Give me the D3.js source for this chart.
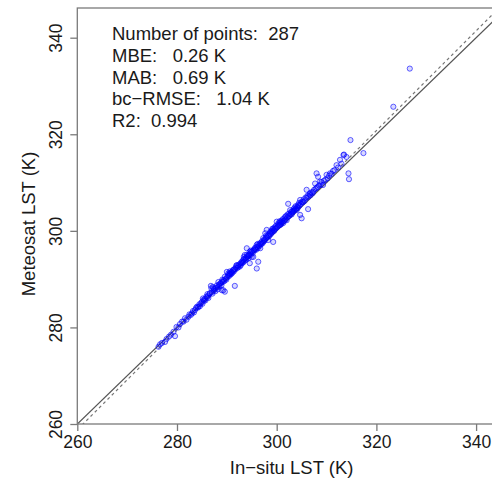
<!DOCTYPE html>
<html>
<head>
<meta charset="utf-8">
<script src="https://cdn.jsdelivr.net/npm/d3@7"></script>
<style>
  body { margin: 0; background: #fff; }
  svg { display: block; font-family: "Liberation Sans", Arial, sans-serif; }
</style>
</head>
<body>
<svg id="chart" width="492" height="482"></svg>
<script>
// in-situ vs Meteosat LST (K)
const insituLST = [
  276.3, 276.6, 277.0, 277.6, 277.9, 278.4, 278.8, 279.3, 279.6, 279.9,
  280.3, 280.6, 281.0, 281.3, 281.6, 281.9, 282.3, 282.5, 282.8, 283.0,
  283.2, 283.4, 283.6, 283.8, 284.0,
  284.2, 284.3, 284.5, 284.6, 284.8, 285.0, 285.1, 285.3, 285.4, 285.6,
  285.7, 285.9, 286.0, 286.2, 286.3, 286.5, 286.6, 286.8, 286.9, 287.0,
  287.1, 287.3, 287.4, 287.5, 287.7, 287.8, 288.0, 288.1, 288.2, 288.4,
  288.5, 288.6, 288.8, 288.9, 289.0, 289.0, 289.2, 289.3, 289.4, 289.5,
  289.6, 289.6, 289.8, 289.9, 290.0, 290.1, 290.2, 290.3, 290.4, 290.5,
  290.6, 290.7, 290.8, 290.9, 291.0, 291.1, 291.2, 291.3, 291.4, 291.5,
  291.6, 291.7, 291.8, 292.0, 292.1, 292.2, 292.3, 292.4, 292.6, 292.7,
  292.8, 292.9,
  293.0, 293.1, 293.2, 293.3, 293.4, 293.5, 293.6, 293.7, 293.8, 293.9,
  294.0, 294.0, 294.1, 294.2, 294.3, 294.4, 294.5, 294.6, 294.6, 294.7,
  294.8, 294.9, 295.0, 295.1, 295.2, 295.3, 295.4, 295.5, 295.6, 296.0,
  295.7, 295.8, 295.9, 296.0, 296.1, 296.2, 296.3, 296.4, 296.5, 296.6,
  296.7, 296.8, 296.9, 297.0, 297.1, 297.2, 297.3, 297.4, 297.5, 297.6,
  297.7, 297.8, 297.9, 298.0, 298.1, 298.2, 298.3, 298.4, 298.5, 298.6,
  298.7, 298.8, 298.9, 299.0, 299.1, 299.2, 299.3, 299.3, 299.4, 299.5,
  299.6, 299.7, 299.8, 299.9, 300.0,
  300.1, 300.2, 300.3, 300.4, 300.5, 300.6, 300.7, 300.8, 300.9, 301.0,
  301.1, 301.2, 301.3, 301.4, 301.5, 301.6, 301.7, 301.8, 301.9, 302.0,
  302.1, 302.2, 302.3, 302.4, 302.5, 302.6, 302.7, 302.8, 302.9, 303.0,
  303.1, 303.2, 303.3, 303.4, 303.5, 303.6, 303.7, 303.8, 303.9, 304.0,
  304.1, 304.2, 304.3, 304.4, 304.5, 304.6, 304.7, 304.7, 304.8, 305.0,
  305.0, 305.2, 305.3, 305.4, 305.6, 305.8,
  306.0, 306.0, 306.2, 306.3, 306.4, 306.6, 306.7, 306.8, 307.0, 307.2,
  307.3, 307.5, 307.7, 307.8, 308.0, 308.0, 308.2, 308.3, 308.5, 308.7,
  308.8, 309.0, 309.3, 309.5, 309.8, 310.0, 310.2, 310.5, 310.7, 311.0,
  311.3, 311.6, 312.0, 312.3, 312.7, 313.0, 313.4, 313.5, 314.0, 314.4,
  314.5, 314.8, 317.4, 323.4, 326.7,
  // extra points in the dense band
  285.2, 286.1, 287.2, 288.3, 289.1, 290.6, 291.9, 293.4, 294.8, 296.2,
  297.9, 299.1, 300.7
];
const meteosatLST = [
  276.0, 276.5, 276.8, 277.0, 277.6, 278.1, 278.5, 279.1, 278.2, 280.1,
  280.0, 280.7, 281.2, 281.2, 281.9, 281.6, 282.2, 282.7, 282.6, 282.9,
  283.4, 283.1, 283.6, 284.0, 284.3,
  284.1, 284.3, 284.8, 284.4, 285.0, 285.3, 284.9, 285.7, 285.5, 285.9,
  285.6, 286.4, 286.2, 286.5, 286.1, 286.9, 287.1, 288.6, 288.1, 287.3,
  287.0, 288.1, 287.6, 287.9, 287.5, 288.2, 288.7, 288.3, 287.9, 288.8,
  288.5, 289.0, 289.2, 288.7, 289.5, 287.7, 289.4, 287.7, 289.8, 289.6,
  290.5, 287.4, 290.1, 289.9, 291.5, 290.4, 290.8, 291.2, 290.6, 291.0,
  291.2, 290.9, 291.4, 291.1, 291.5, 291.3, 291.8, 291.9, 291.6, 292.1,
  288.6, 292.0, 292.4, 292.9, 292.3, 292.7, 292.5, 293.0, 292.6, 293.2,
  292.9, 293.5,
  293.3, 293.7, 293.4, 294.0, 293.6, 294.2, 295.0, 293.9, 294.4, 294.1,
  295.0, 296.4, 294.6, 294.8, 294.3, 295.1, 294.9, 295.7, 293.3, 295.3,
  295.0, 295.6, 294.6, 295.8, 295.4, 294.6, 296.1, 295.9, 296.4, 292.2,
  296.2, 296.6, 296.1, 297.1, 296.7, 296.4, 293.6, 297.0, 296.8, 297.4,
  296.4, 297.2, 297.6, 297.3, 297.9, 297.5, 298.5, 297.8, 298.2, 298.0,
  299.5, 298.4, 298.7, 300.2, 298.6, 299.0, 298.1, 299.2, 298.9, 299.5,
  299.8, 299.3, 299.9, 299.6, 300.1, 299.8, 300.5, 297.7, 300.2, 300.0,
  300.7, 300.4, 301.0, 300.6, 301.9,
  300.8, 301.3, 301.0, 301.6, 301.2, 302.0, 301.2, 301.7, 301.4, 302.1,
  301.8, 302.4, 301.6, 302.0, 302.6, 302.2, 302.9, 302.4, 303.1, 302.2,
  302.8, 303.4, 305.6, 303.0, 303.6, 303.2, 304.3, 303.5, 303.9, 303.4,
  304.1, 303.8, 304.0, 304.5, 304.2, 304.8, 304.4, 305.1, 304.6, 304.3,
  305.0, 304.7, 305.4, 305.1, 305.8, 305.3, 306.4, 303.3, 305.6, 302.6,
  306.0, 305.9, 306.0, 306.5, 306.2, 306.9,
  308.5, 306.8, 307.3, 304.5, 307.1, 307.6, 307.8, 307.4, 308.0, 307.8,
  308.1, 308.5, 309.8, 308.7, 311.9, 308.9, 309.1, 311.2, 309.4, 310.2,
  309.6, 310.1, 309.5, 310.4, 310.6, 311.6, 310.9, 311.4, 311.9, 311.8,
  312.4, 312.6, 313.6, 313.1, 314.7, 313.9, 315.7, 315.8, 315.3, 311.9,
  310.7, 318.8, 316.1, 325.7, 333.6,
  286.0, 286.9, 288.4, 289.4, 289.9, 291.6, 292.8, 294.6, 295.9, 297.3,
  299.0, 300.4, 301.8
];

const xTicks = [260, 280, 300, 320, 340];
const yTicks = [260, 280, 300, 320, 340];
const statsLines = [
  "Number of points:  287",
  "MBE:   0.26 K",
  "MAB:   0.69 K",
  "bc\u2212RMSE:   1.04 K",
  "R2:  0.994"
];
// dashed line: y = fitSlope * x + fitIntercept
const fitSlope = 1.0325;
const fitIntercept = -9.64;

const svg = d3.select("#chart");
const plotLeft = 77.3, plotRight = 506, plotTop = 8, plotBottom = 424;

const x = d3.scaleLinear().domain([260, 346]).range([plotLeft, plotRight]);
const y = d3.scaleLinear().domain([260, 346.15]).range([plotBottom, plotTop]);

const axisColor = "#7a7a7a";
const textColor = "#1a1a1a";

svg.append("defs").append("clipPath").attr("id", "plotClip")
  .append("rect")
  .attr("x", plotLeft).attr("y", plotTop)
  .attr("width", plotRight - plotLeft).attr("height", plotBottom - plotTop);

const plot = svg.append("g").attr("clip-path", "url(#plotClip)");

// 1:1 line
plot.append("line")
  .attr("x1", x(260)).attr("y1", y(260))
  .attr("x2", x(346)).attr("y2", y(346))
  .attr("stroke", "#555")
  .attr("stroke-width", 1.3);

// fitted line
plot.append("line")
  .attr("x1", x(255)).attr("y1", y(fitSlope * 255 + fitIntercept))
  .attr("x2", x(346)).attr("y2", y(fitSlope * 346 + fitIntercept))
  .attr("stroke", "#777")
  .attr("stroke-width", 1.2)
  .attr("stroke-dasharray", "3,3");

// points
plot.selectAll("circle")
  .data(insituLST.map((v, i) => [v, meteosatLST[i]]))
  .join("circle")
  .attr("cx", d => x(d[0]))
  .attr("cy", d => y(d[1]))
  .attr("r", 2.6)
  .attr("fill", "rgba(0,0,255,0.15)")
  .attr("stroke", "rgba(0,0,255,0.6)")
  .attr("stroke-width", 1);

// frame
svg.append("rect")
  .attr("x", plotLeft).attr("y", plotTop)
  .attr("width", plotRight - plotLeft).attr("height", plotBottom - plotTop)
  .attr("fill", "none")
  .attr("stroke", axisColor)
  .attr("stroke-width", 1.3);

// x axis
const xAxis = svg.append("g")
  .attr("transform", `translate(0,${plotBottom})`)
  .call(d3.axisBottom(x).tickValues(xTicks).tickSize(7).tickPadding(5).tickFormat(d3.format("d")));
xAxis.select(".domain").remove();
xAxis.selectAll("line").attr("stroke", axisColor).attr("stroke-width", 1.3);
xAxis.selectAll("text")
  .attr("fill", textColor)
  .style("font-size", "17.5px")
  .style("font-family", "Liberation Sans, Arial, sans-serif");

// y axis (rotated labels)
const yAxis = svg.append("g")
  .attr("transform", `translate(${plotLeft},0)`)
  .call(d3.axisLeft(y).tickValues(yTicks).tickSize(7).tickFormat(d3.format("d")));
yAxis.select(".domain").remove();
yAxis.selectAll("line").attr("stroke", axisColor).attr("stroke-width", 1.3);
yAxis.selectAll("text")
  .attr("fill", textColor)
  .attr("x", 0).attr("dy", 0)
  .attr("text-anchor", "middle")
  .attr("transform", "translate(-15,0) rotate(-90)")
  .style("font-size", "17.5px")
  .style("font-family", "Liberation Sans, Arial, sans-serif");

// axis titles
svg.append("text")
  .attr("x", (plotLeft + plotRight) / 2)
  .attr("y", 474)
  .attr("text-anchor", "middle")
  .attr("fill", textColor)
  .style("font-size", "18.5px")
  .text("In\u2212situ LST (K)");

svg.append("text")
  .attr("transform", "translate(35,224) rotate(-90)")
  .attr("text-anchor", "middle")
  .attr("fill", textColor)
  .style("font-size", "18.5px")
  .text("Meteosat LST (K)");

// stats
svg.append("g").selectAll("text")
  .data(statsLines)
  .join("text")
  .attr("x", 112)
  .attr("y", (d, i) => 40 + i * 21.8)
  .attr("fill", textColor)
  .style("font-size", "18.5px")
  .style("white-space", "pre")
  .text(d => d);
</script>
</body>
</html>
